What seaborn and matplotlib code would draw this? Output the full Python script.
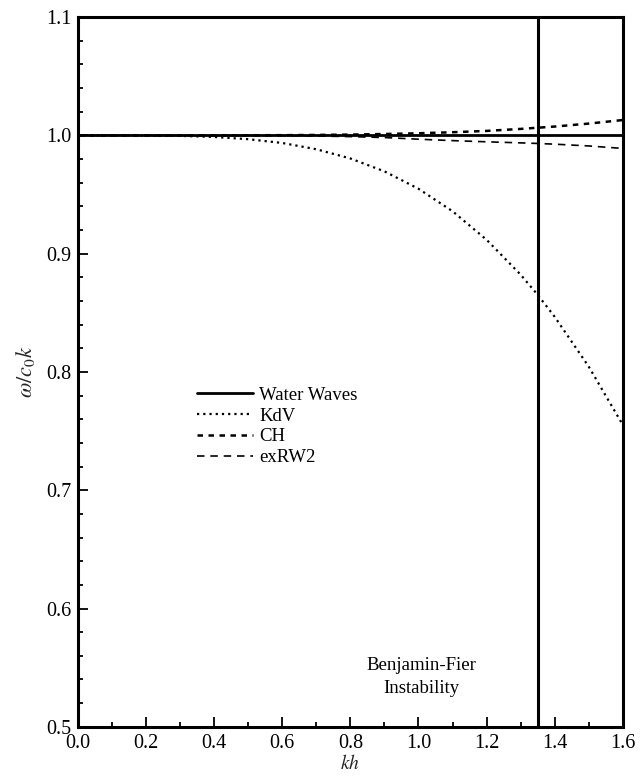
import numpy as np
import pandas as pd
import matplotlib
matplotlib.use("Agg")
import matplotlib.pyplot as plt
from matplotlib.ticker import MultipleLocator
import seaborn as sns

# Normalised phase speed omega/(c0 k) against kh for the four models
kh = [0.0, 0.1, 0.2, 0.3, 0.4, 0.5, 0.6, 0.7, 0.8, 0.9, 1.0,
      1.1, 1.2, 1.3, 1.35, 1.4, 1.5, 1.6]
water_waves = [1.0] * len(kh)
kdv = [1.0, 1.0, 0.9999, 0.9996, 0.9987, 0.9968, 0.9936, 0.9883, 0.9805,
       0.9696, 0.9549, 0.9359, 0.9118, 0.8823, 0.8653, 0.8467, 0.8046, 0.7554]
ch = [1.0, 1.0, 1.0, 1.0, 1.0, 1.0001, 1.0002, 1.0004, 1.0007, 1.0012,
      1.0018, 1.0027, 1.0038, 1.0055, 1.0065, 1.0075, 1.0100, 1.0130]
exrw2 = [1.0, 1.0, 1.0, 1.0, 1.0, 0.9999, 0.9998, 0.9995, 0.9990, 0.9982,
         0.9968, 0.9956, 0.9946, 0.9937, 0.9932, 0.9926, 0.9911, 0.9890]
series_names = ["Water Waves", "KdV", "CH", "exRW2"]
bf_kh = 1.35
bf_label = "Benjamin-Fier\nInstability"

sns.set_theme(style="ticks")
plt.rcParams["font.family"] = ["Liberation Serif", "DejaVu Serif"]
plt.rcParams["mathtext.fontset"] = "stix"

fig = plt.figure(figsize=(6.4, 7.79), dpi=100)
ax = fig.add_axes([0.122, 0.067, 0.851, 0.911])

df = pd.DataFrame({"kh": kh, "Water Waves": water_waves, "KdV": kdv,
                   "CH": ch, "exRW2": exrw2})

styles = {
    "Water Waves": dict(linestyle="-", linewidth=2.0),
    "KdV": dict(linestyle=(0, (1, 1.8)), linewidth=1.6),
    "CH": dict(linestyle=(0, (2.2, 2.2)), linewidth=1.8),
    "exRW2": dict(linestyle=(0, (4.5, 3.5)), linewidth=1.2),
}
for name in series_names:
    sns.lineplot(data=df, x="kh", y=name, ax=ax, color="black",
                 label=name, **styles[name])

ax.axvline(bf_kh, color="black", linewidth=2.2)
ax.text(1.01, 0.542, bf_label, ha="center", va="center",
        multialignment="center", fontsize=13.5, color="black",
        linespacing=1.45)

ax.set_xlim(0.0, 1.6)
ax.set_ylim(0.5, 1.1)
ax.xaxis.set_major_locator(MultipleLocator(0.2))
ax.xaxis.set_minor_locator(MultipleLocator(0.1))
ax.yaxis.set_major_locator(MultipleLocator(0.1))
ax.yaxis.set_minor_locator(MultipleLocator(0.02))
ax.xaxis.set_major_formatter(matplotlib.ticker.FormatStrFormatter("%.1f"))
ax.yaxis.set_major_formatter(matplotlib.ticker.FormatStrFormatter("%.1f"))
ax.tick_params(which="both", direction="in", colors="black",
               top=False, right=False, labelsize=14.5, width=1.3)
ax.tick_params(which="major", length=7, pad=5)
ax.tick_params(which="minor", length=3.5)
for sp in ax.spines.values():
    sp.set_linewidth(2.2)
    sp.set_color("black")

ax.set_xlabel(r"$kh$", fontsize=14, labelpad=1)
ax.set_ylabel(r"$\omega/c_0k$", fontsize=16, labelpad=6)

leg = ax.legend(loc="upper left", bbox_to_anchor=(0.205, 0.49),
                frameon=False, fontsize=13.5, handlelength=3.0,
                handletextpad=0.3, labelspacing=0.2, borderaxespad=0)
for t in leg.get_texts():
    t.set_color("black")

fig.savefig("out.png", dpi=100, facecolor="white")
